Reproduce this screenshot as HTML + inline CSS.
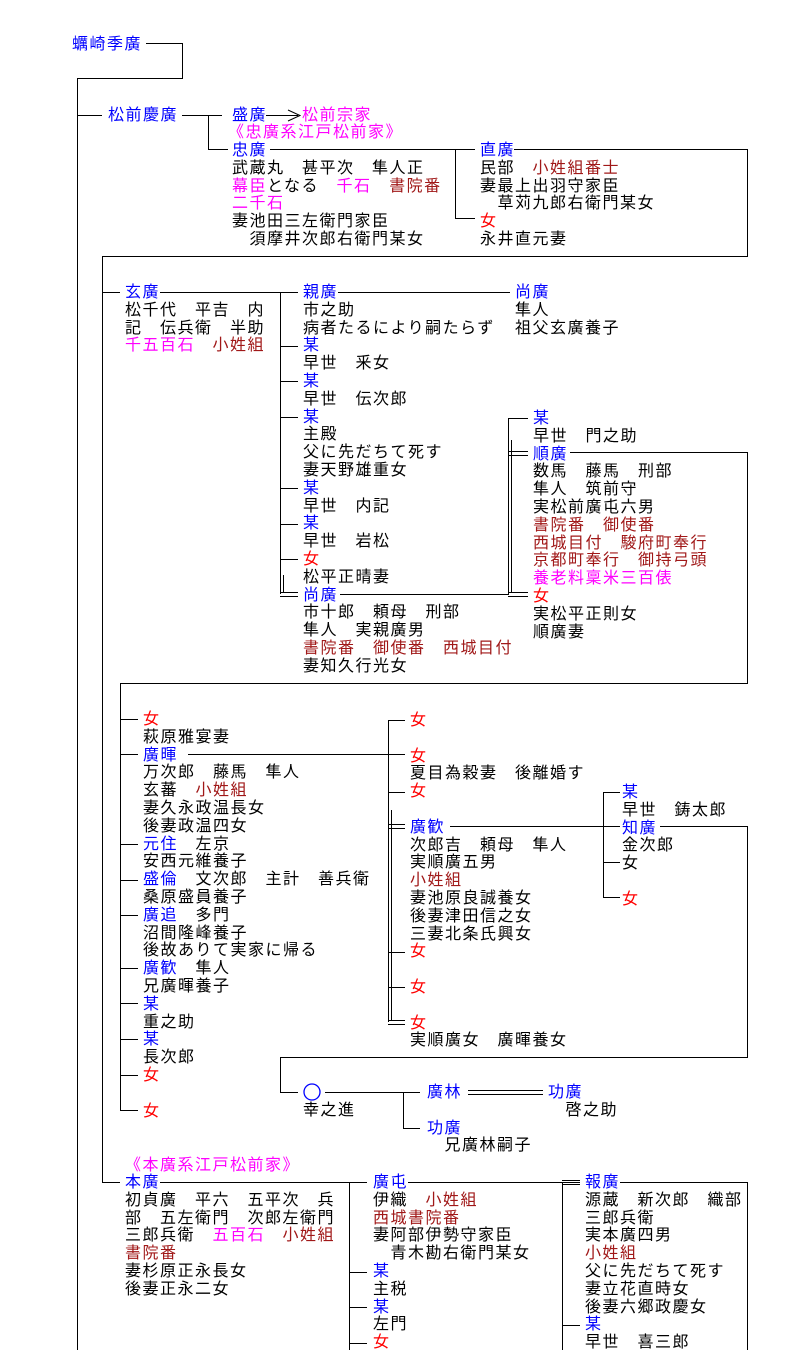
<!DOCTYPE html>
<html><head><meta charset="utf-8">
<style>
html,body{margin:0;padding:0;background:#fff;}
#c{position:relative;width:794px;height:1350px;overflow:hidden;font-family:"Liberation Sans","Noto Sans CJK JP",sans-serif;}
.t{position:absolute;white-space:pre;line-height:17.8px;font-size:16px;letter-spacing:1.5px;color:#000;margin-top:1px;}
.b{color:#0000ff}.m{color:#ff00ff}.d{color:#a01818}.r{color:#ff0000}
svg{position:absolute;left:0;top:0}
</style></head><body><div id="c">
<svg width="794" height="1350" fill="none" stroke="#000" stroke-width="1">
<path d="M146 43.5H182.5V78.5H77.5V1350"/>
<path d="M77 115.5H102"/>
<path d="M182 115.5H222M208.5 115V149.5H228"/>
<path d="M266 115.5H298M288 110L300 115.5L288 121"/>
<path d="M270 149.5H475M455.5 149V218.5H475"/>
<path d="M514 149.5H747.5V256.5H102.5V1182.5H120"/>
<path d="M102 292.5H120M160 292.5H298M280.5 292V594"/>
<path d="M281 346.5H298M281 381.5H298M281 417.5H298M281 488.5H298M281 524.5H298M281 559.5H298"/>
<path d="M280 592.5H298M280 596.5H298M283.5 575V592"/>
<path d="M338 292.5H510"/>
<path d="M340 594.5H508.5V418.5H528"/>
<path d="M508 451.5H528M508 455.5H528M508 592.5H528M508 596.5H528M511.5 440V592"/>
<path d="M570 452.5H747.5V683.5H120.5V1110.5H138"/>
<path d="M120 719.5H138M120 754.5H138M120 844.5H138M120 880.5H138M120 915.5H138M120 968.5H138M120 1003.5H138M120 1039.5H138M120 1075.5H138"/>
<path d="M188 754.5H405M388.5 720V1022"/>
<path d="M388 720.5H405M388 792.5H405M388 952.5H405M388 987.5H405"/>
<path d="M388 824.5H405M388 828.5H405M388 1020.5H405M388 1024.5H405M391.5 810V1020"/>
<path d="M450 826.5H620M603.5 792V897.5H620M603 792.5H620M603 862.5H620"/>
<path d="M660 826.5H747.5V1057.5H280.5V1092.5H298"/>
<path d="M325 1092.5H420M403.5 1092V1128.5H420"/>
<path d="M468 1090.5H543M468 1094.5H543"/>
<path d="M160 1182.5H367M349.5 1182V1350"/>
<path d="M349 1272.5H367M349 1307.5H367M349 1343.5H367"/>
<path d="M408 1182.5H580M562.5 1182V1350"/>
<path d="M562 1180.5H580M562 1184.5H580M562 1325.5H580"/>
<path d="M620 1182.5H747.5V1350"/>
<circle cx="312" cy="1092" r="8" stroke="#0000ff" stroke-width="1.3"/>
</svg>
<div class="t b" style="left:72px;top:35px">蠣崎季廣</div>
<div class="t b" style="left:108px;top:106px">松前慶廣</div>
<div class="t" style="left:232px;top:106px"><span class="b">盛廣</span></div>
<div class="t m" style="left:302px;top:106px">松前宗家</div>
<div class="t m" style="left:228px;top:123px">《忠廣系江戸松前家》</div>
<div class="t" style="left:232px;top:141px"><span class="b">忠廣</span>
武蔵丸　甚平次　隼人正
<span class="m">幕臣</span>となる　<span class="m">千石</span>　<span class="d">書院番</span>
<span class="m">二千石</span>
妻池田三左衛門家臣
　須摩井次郎右衛門某女</div>
<div class="t" style="left:480px;top:141px"><span class="b">直廣</span>
民部　<span class="d">小姓組番士</span>
妻最上出羽守家臣
　草苅九郎右衛門某女
<span class="r">女</span>
永井直元妻</div>
<div class="t" style="left:125px;top:283px"><span class="b">玄廣</span>
松千代　平吉　内
記　伝兵衛　半助
<span class="m">千五百石</span>　<span class="d">小姓組</span></div>
<div class="t" style="left:303px;top:283px"><span class="b">親廣</span>
市之助
病者たるにより嗣たらず
<span class="b">某</span>
早世　釆女
<span class="b">某</span>
早世　伝次郎
<span class="b">某</span>
主殿
父に先だちて死す
妻天野雄重女
<span class="b">某</span>
早世　内記
<span class="b">某</span>
早世　岩松
<span class="r">女</span>
松平正晴妻
<span class="b">尚廣</span>
市十郎　頼母　刑部
隼人　実親廣男
<span class="d">書院番　御使番　西城目付</span>
妻知久行光女</div>
<div class="t" style="left:515px;top:283px"><span class="b">尚廣</span>
隼人
祖父玄廣養子</div>
<div class="t" style="left:533px;top:409px"><span class="b">某</span>
早世　門之助
<span class="b">順廣</span>
数馬　藤馬　刑部
隼人　筑前守
実松前廣屯六男
<span class="d">書院番　御使番</span>
<span class="d">西城目付　駿府町奉行</span>
<span class="d">京都町奉行　御持弓頭</span>
<span class="m">養老料稟米三百俵</span>
<span class="r">女</span>
実松平正則女
順廣妻</div>
<div class="t" style="left:143px;top:710px"><span class="r">女</span>
萩原雅宴妻
<span class="b">廣暉</span>
万次郎　藤馬　隼人
玄蕃　<span class="d">小姓組</span>
妻久永政温長女
後妻政温四女
<span class="b">元住</span>　左京
安西元維養子
<span class="b">盛倫</span>　文次郎　主計　善兵衛
桑原盛員養子
<span class="b">廣追</span>　多門
沼間隆峰養子
後故ありて実家に帰る
<span class="b">廣歓</span>　隼人
兄廣暉養子
<span class="b">某</span>
重之助
<span class="b">某</span>
長次郎
<span class="r">女</span>

<span class="r">女</span></div>
<div class="t" style="left:410px;top:711px"><span class="r">女</span>

<span class="r">女</span>
夏目為穀妻　後離婚す
<span class="r">女</span>

<span class="b">廣歓</span>
次郎吉　頼母　隼人
実順廣五男
<span class="d">小姓組</span>
妻池原良誠養女
後妻津田信之女
三妻北条氏興女
<span class="r">女</span>

<span class="r">女</span>

<span class="r">女</span>
実順廣女　廣暉養女</div>
<div class="t" style="left:622px;top:783px"><span class="b">某</span>
早世　鋳太郎
<span class="b">知廣</span>
金次郎
女

<span class="r">女</span></div>
<div class="t" style="left:303px;top:1101px">幸之進</div>
<div class="t" style="left:427px;top:1083px"><span class="b">廣林</span>

<span class="b">功廣</span>
　兄廣林嗣子</div>
<div class="t" style="left:548px;top:1083px"><span class="b">功廣</span>
　啓之助</div>
<div class="t m" style="left:125px;top:1156px">《本廣系江戸松前家》</div>
<div class="t" style="left:125px;top:1173px"><span class="b">本廣</span>
初貞廣　平六　五平次　兵
部　五左衛門　次郎左衛門
三郎兵衛　<span class="m">五百石</span>　<span class="d">小姓組</span>
<span class="d">書院番</span>
妻杉原正永長女
後妻正永二女</div>
<div class="t" style="left:373px;top:1173px"><span class="b">廣屯</span>
伊織　<span class="d">小姓組</span>
<span class="d">西城書院番</span>
妻阿部伊勢守家臣
　青木勘右衛門某女
<span class="b">某</span>
主税
<span class="b">某</span>
左門
<span class="r">女</span></div>
<div class="t" style="left:585px;top:1173px"><span class="b">報廣</span>
源蔵　新次郎　織部
三郎兵衛
実本廣四男
<span class="d">小姓組</span>
父に先だちて死す
妻立花直時女
後妻六郷政慶女
<span class="b">某</span>
早世　喜三郎</div>
</div></body></html>
